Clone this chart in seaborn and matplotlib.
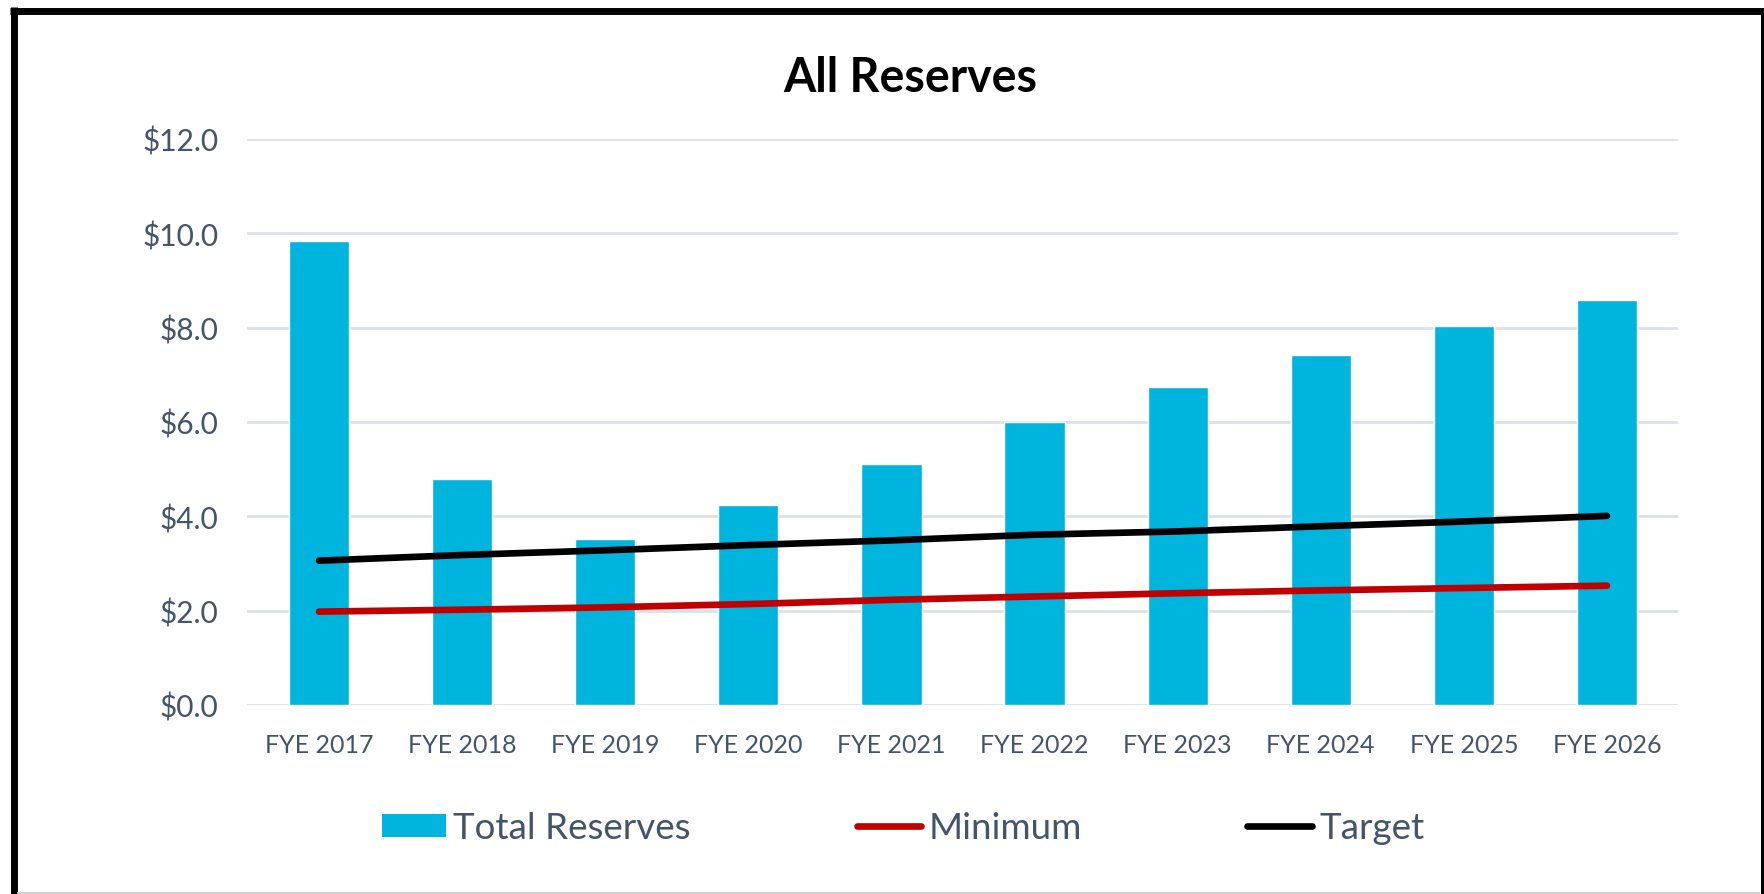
import matplotlib
matplotlib.use("Agg")
import matplotlib.pyplot as plt
import seaborn as sns
import pandas as pd
from matplotlib.patches import Patch
from matplotlib.lines import Line2D

categories = ["FYE 2017", "FYE 2018", "FYE 2019", "FYE 2020", "FYE 2021",
              "FYE 2022", "FYE 2023", "FYE 2024", "FYE 2025", "FYE 2026"]
total_reserves = [9.84, 4.80, 3.52, 4.23, 5.12, 6.00, 6.75, 7.42, 8.04, 8.59]
minimum = [1.98, 2.02, 2.07, 2.14, 2.23, 2.30, 2.37, 2.43, 2.48, 2.53]
target = [3.06, 3.18, 3.28, 3.39, 3.49, 3.61, 3.68, 3.79, 3.89, 4.01]
y_ticks = [0, 2, 4, 6, 8, 10, 12]

BAR = "#00B5DD"
RED = "#C00000"
TXT = "#44546A"
GRID = "#DDE1E8"

sns.set_theme(style="white")
plt.rcParams["font.family"] = ["Lato", "DejaVu Sans"]

df = pd.DataFrame({"cat": categories, "total": total_reserves,
                   "minimum": minimum, "target": target})

fig = plt.figure(figsize=(17.64, 8.95), dpi=100)
ax = fig.add_axes([247.5 / 1764, 1 - 706 / 895, (1678.5 - 247.5) / 1764, (706 - 140) / 895])

sns.barplot(data=df, x="cat", y="total", color=BAR, width=0.42, saturation=1,
            ax=ax, zorder=2)
sns.lineplot(data=df, x="cat", y="minimum", color=RED, lw=4.8, sort=False,
             ax=ax, zorder=3, solid_capstyle="round")
sns.lineplot(data=df, x="cat", y="target", color="black", lw=4.8, sort=False,
             ax=ax, zorder=4, solid_capstyle="round")

ax.set_ylim(0, 12)
ax.set_xlim(-0.5, len(categories) - 0.5)
ax.set_yticks(y_ticks)
ax.set_yticklabels([f"${v:.1f}" for v in y_ticks])
ax.set_xlabel("")
ax.set_ylabel("")
ax.yaxis.grid(True, color=GRID, lw=2, zorder=0)
ax.set_axisbelow(True)
for s in ax.spines.values():
    s.set_visible(False)
ax.tick_params(axis="y", length=0, pad=21, labelsize=21.5, labelcolor=TXT)
ax.tick_params(axis="x", length=0, pad=20, labelsize=18, labelcolor=TXT)

fig.text(910 / 1764, 1 - 92 / 895, "All Reserves", ha="center", va="baseline",
         fontsize=33.5, fontweight="bold", color="black")

handles = [Patch(facecolor=BAR, edgecolor="none", label="Total Reserves"),
           Line2D([], [], color=RED, lw=4.8, solid_capstyle="round", label="Minimum"),
           Line2D([], [], color="black", lw=4.8, solid_capstyle="round", label="Target")]
fig.legend(handles=handles, loc="center", bbox_to_anchor=(903 / 1764, 1 - 829 / 895),
           ncol=3, frameon=False, fontsize=26.5, labelcolor=TXT,
           handlelength=1.75, handleheight=0.62, handletextpad=0.2,
           columnspacing=4.5)

# outer frame (screenshot border)
fig.add_artist(Line2D([13.5 / 1764, 13.5 / 1764], [0, 1 - 8 / 895], color="black",
                      lw=5, transform=fig.transFigure, solid_capstyle="butt"))
fig.add_artist(Line2D([10 / 1764, 1], [1 - 11.5 / 895, 1 - 11.5 / 895], color="black",
                      lw=5, transform=fig.transFigure, solid_capstyle="butt"))
fig.add_artist(Line2D([1762 / 1764, 1762 / 1764], [0, 1 - 10 / 895], color="black",
                      lw=2.2, transform=fig.transFigure, solid_capstyle="butt"))
fig.add_artist(Line2D([17 / 1764, 1760 / 1764], [1 / 895, 1 / 895], color="#C8C8C8",
                      lw=1.2, transform=fig.transFigure, solid_capstyle="butt"))

fig.savefig("out.png", dpi=100, facecolor="white")
